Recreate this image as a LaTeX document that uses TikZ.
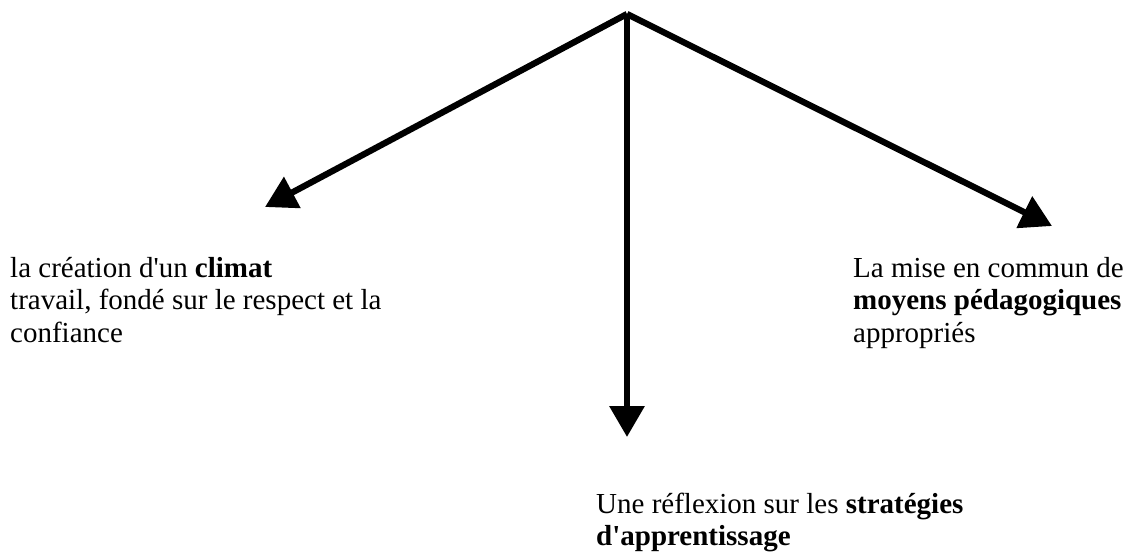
\documentclass[tikz,border=0pt]{standalone}
\usepackage{fontspec}
\setmainfont{Liberation Serif}
\usetikzlibrary{arrows.meta}
\tikzset{
  conn/.style={line width=6.3pt, -{Triangle[length=31pt,width=34pt]}},
  lbl/.style={inner sep=0pt, anchor=base west, font=\fontsize{29}{32.5}\selectfont},
}
\newcommand{\apos}{\textquotesingle}
\begin{document}
\begin{tikzpicture}[x=1pt,y=-1pt]
\useasboundingbox (0,0) rectangle (1132,552);
\coordinate (top) at (627,14);
\coordinate (tl) at (265,207);
\coordinate (tm) at (627,437);
\coordinate (tr) at (1052,226);
\draw[conn] (top) -- (tl);
\draw[conn] (top) -- (tm);
\draw[conn] (top) -- (tr);
\node[lbl] (left) at (10,277) {\begin{tabular}[t]{@{}l@{}}la création d\apos un \textbf{climat}\\travail, fondé sur le respect et la\\confiance\end{tabular}};
\node[lbl] (right) at (853,277) {\begin{tabular}[t]{@{}l@{}}La mise en commun de\\\textbf{moyens pédagogiques}\\appropriés\end{tabular}};
\node[lbl] (mid) at (596,513) {\begin{tabular}[t]{@{}l@{}}Une réflexion sur les \textbf{stratégies}\\\textbf{d\apos apprentissage}\end{tabular}};
\end{tikzpicture}
\end{document}
